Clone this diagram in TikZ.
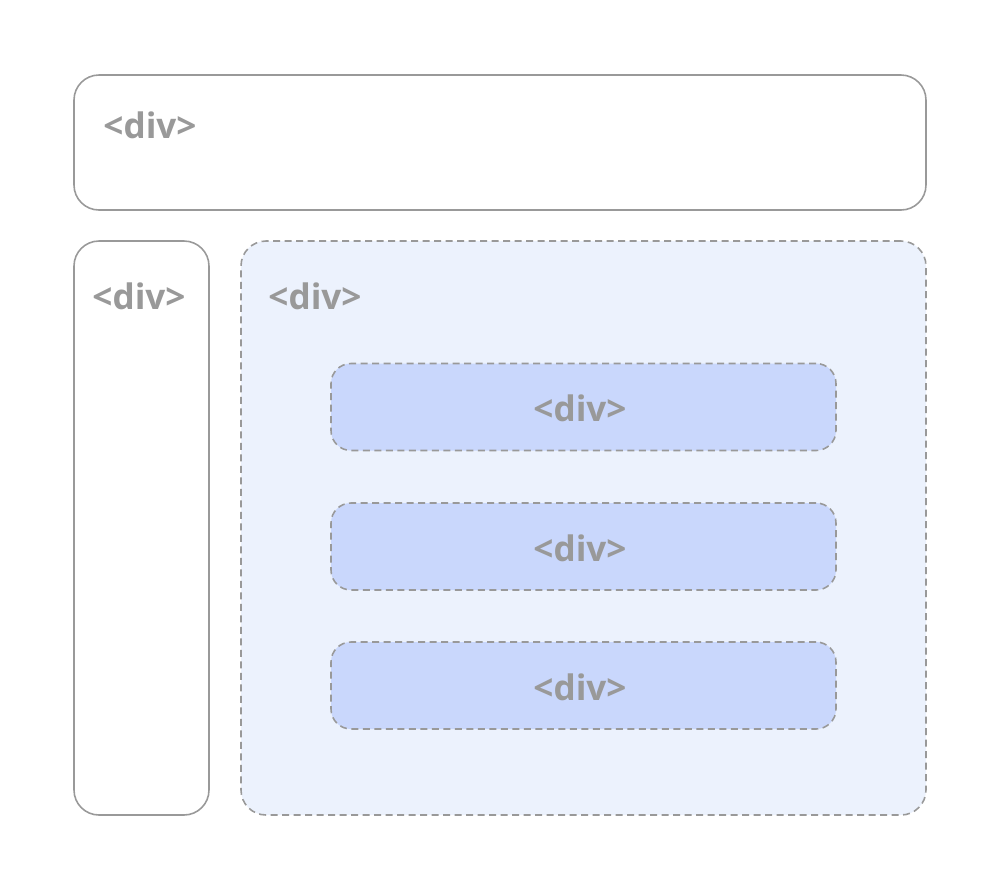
\documentclass[tikz,border=0pt]{standalone}
\usepackage{fontspec}
\setmainfont{Open Sans}
\usetikzlibrary{positioning}
\definecolor{linegray}{HTML}{999999}
\definecolor{paleblue}{HTML}{ECF2FD}
\definecolor{softblue}{HTML}{C9D7FC}

\begin{document}
\begin{tikzpicture}[x=0.1mm,y=-0.1mm,
  box/.style={draw=linegray,line width=0.45pt,rounded corners=2.5mm,inner sep=0pt},
  dashbox/.style={box,dash pattern=on 0.7mm off 0.45mm},
  lab/.style={font=\bfseries\fontsize{10}{12}\selectfont,text=linegray}]
\useasboundingbox (0,0) rectangle (1000,890);
% outer boxes
\node[box,minimum width=85.2mm,minimum height=13.5mm] (header) at (500,142.5) {};
\node[box,minimum width=13.5mm,minimum height=57.4mm] (sidebar) at (141.5,528) {};
\node[dashbox,fill=paleblue,minimum width=68.5mm,minimum height=57.4mm] (main) at (583.5,528) {};
\node[lab] (headerlab) at (150,125) {<div>};
\node[lab] (sidebarlab) at (139,296) {<div>};
\node[lab] (mainlab) at (315,296) {<div>};
% inner boxes
\foreach \y [count=\i] in {407,546.5,685.5}
  \node[dashbox,fill=softblue,rounded corners=2mm,minimum width=50.5mm,minimum height=8.7mm] (item\i) at (583.5,\y) {};
\foreach \i in {1,2,3}
  \node[lab] (item\i lab) at ([xshift=-0.35mm,yshift=-0.15mm]item\i.center) {<div>};
\end{tikzpicture}
\end{document}
